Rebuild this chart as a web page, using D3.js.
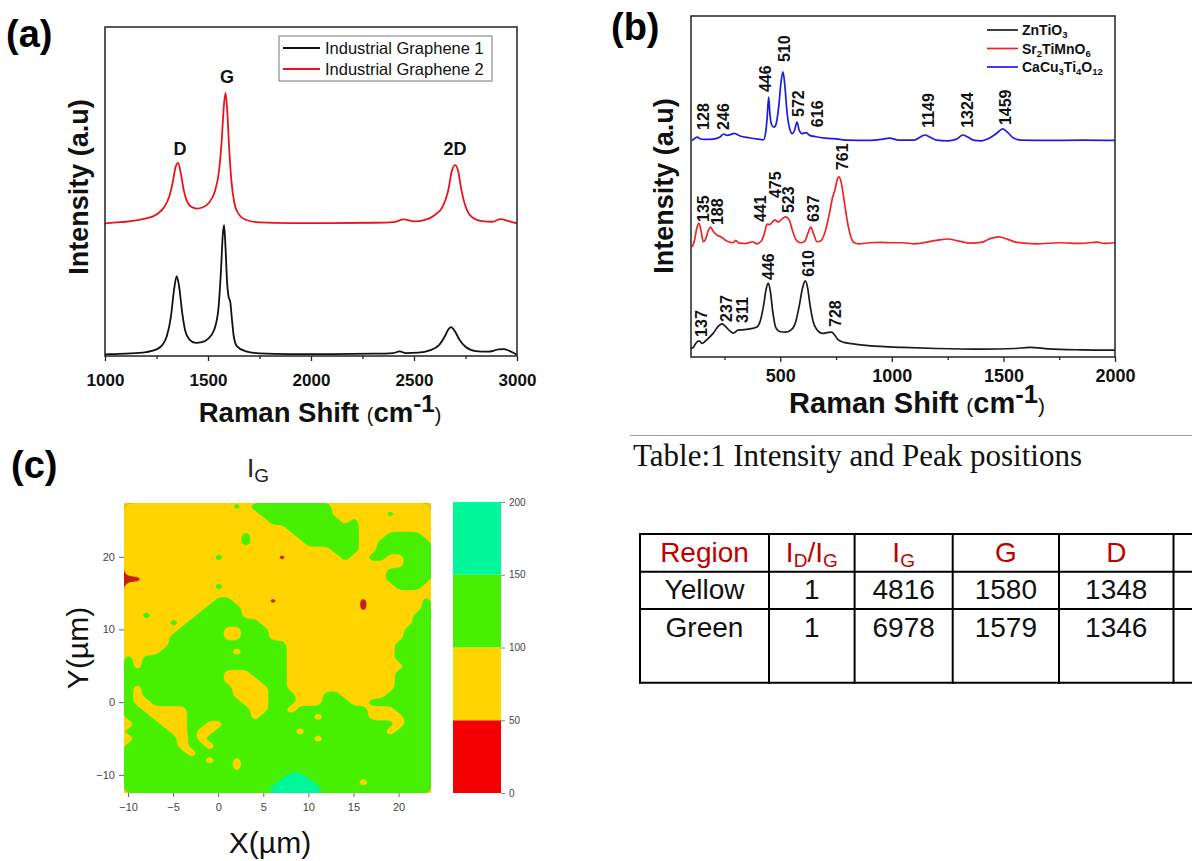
<!DOCTYPE html>
<html>
<head>
<meta charset="utf-8">
<script src="https://cdn.jsdelivr.net/npm/d3@7"></script>
<style>
  html, body { margin: 0; padding: 0; background: #fff; }
  svg { display: block; font-family: "Liberation Sans", Arial, sans-serif; }
</style>
</head>
<body>
<div id="fig"></div>
<script>
// ---------- (a) Raman spectra, two industrial graphene samples ----------
const grapheneNames = ["Industrial Graphene 1", "Industrial Graphene 2"];
const grapheneColors = ["#111111", "#e8141b"];
const graphene1 = [[1000,0.5],[1050,0.6],[1100,0.7],[1150,0.9],[1200,1.2],[1250,2.0],[1280,3.5],[1300,6],[1320,12],[1335,20],[1348,24.3],[1360,21],[1375,13],[1390,7.5],[1410,5],[1440,4],[1470,4.2],[1500,5.2],[1530,8],[1550,14],[1563,26],[1572,37],[1578,39.8],[1585,33],[1593,22],[1600,18],[1608,16.5],[1615,12],[1625,6],[1640,3],[1680,1.5],[1750,0.8],[1900,0.6],[2100,0.6],[2300,0.7],[2400,0.9],[2430,1.4],[2460,0.9],[2520,1.0],[2580,1.8],[2620,3.2],[2650,6],[2668,8.2],[2680,8.8],[2698,7.6],[2720,5],[2750,2.8],[2800,1.5],[2860,1.3],[2910,2.0],[2935,2.1],[2965,1.5],[3000,0.4]];
const graphene2 = [[1000,40.3],[1050,40.6],[1100,40.8],[1150,41.2],[1200,41.8],[1250,43],[1290,45.5],[1312,48.5],[1328,52.5],[1343,57.5],[1355,58.7],[1368,55.5],[1382,50.5],[1396,47.3],[1415,45.5],[1445,44.8],[1475,45.2],[1505,46.6],[1533,50],[1553,56],[1566,65],[1577,76],[1585,80],[1593,75],[1602,64],[1614,53],[1628,46.5],[1648,43.2],[1680,41.5],[1750,40.6],[1900,40.4],[2100,40.4],[2300,40.5],[2400,40.7],[2450,41.5],[2500,40.9],[2550,41.3],[2600,42.8],[2640,45.5],[2665,50],[2685,56.5],[2700,58],[2713,56.5],[2730,50.5],[2750,45.5],[2780,42.3],[2830,41],[2880,40.8],[2920,41.6],[2960,41.0],[3000,40.3]];
const graphenePeaks = [["D",1364,61.1],["G",1592,83],["2D",2699,61.1]];
const grapheneTicks = [1000,1500,2000,2500,3000];
const grapheneMinor = [1250,1750,2250,2750];

// ---------- (b) Raman spectra, three oxides ----------
const oxideNames = [[["ZnTiO",0],["3",1]], [["Sr",0],["2",1],["TiMnO",0],["6",1]], [["CaCu",0],["3",1],["Ti",0],["4",1],["O",0],["12",1]]];
const oxideColors = ["#1a1a1a", "#ee2424", "#1c1ce6"];
const znTiO3 = [[100,2.4],[110,2.8],[125,4.3],[137,4.7],[150,4.0],[170,5.0],[200,7.0],[225,9.2],[239,9.7],[255,8.9],[275,7.6],[290,7.0],[311,7.9],[340,8.0],[370,8.3],[395,8.8],[410,10.5],[425,15],[437,20],[446,21.7],[455,19.5],[467,13],[480,8.6],[500,7.4],[525,7.3],[550,8],[570,10.5],[585,15],[600,20.3],[612,22.3],[622,20.5],[634,15],[647,10.5],[662,8.2],[690,6.9],[715,7.2],[731,7.3],[745,6.3],[760,5],[785,4.3],[820,3.9],[870,3.5],[950,3.1],[1050,2.8],[1200,2.5],[1400,2.3],[1550,2.5],[1620,2.8],[1700,2.4],[1850,2.1],[2000,2.0]];
const sr2TiMnO6 = [[105,32.3],[115,34],[125,37.5],[135,39.3],[145,37],[155,33.8],[165,34.5],[178,37.2],[188,38.1],[200,36.8],[215,35.8],[235,35.2],[260,34.0],[290,33.5],[300,34.2],[315,33.4],[350,33.3],[375,33.8],[395,33.2],[415,34],[430,36.5],[441,39.0],[452,38.8],[465,39.6],[475,40.2],[490,39.6],[505,40.3],[523,41.1],[540,40.2],[555,37],[570,34.5],[590,33.5],[610,34.0],[625,36.5],[637,38.1],[650,36.0],[665,33.8],[680,34.0],[700,36.5],[720,42],[735,47],[745,49],[755,52],[763,52.8],[772,51.5],[786,46],[800,40],[815,35.5],[830,33.6],[850,33.2],[900,33.5],[950,33.6],[1000,33.5],[1050,33.5],[1100,33.2],[1200,34.2],[1250,34.6],[1300,34.0],[1350,33.4],[1400,33.6],[1440,34.7],[1480,35.2],[1520,34.5],[1560,33.6],[1650,33.2],[1750,33.5],[1850,33.3],[1920,33.7],[1950,33.3],[2000,33.5]];
const caCu3Ti4O12 = [[105,63.5],[115,64.0],[128,64.5],[140,64.0],[160,63.8],[200,63.9],[230,64.5],[246,65.4],[262,65.0],[280,65.3],[293,65.6],[320,64.8],[360,64.3],[400,63.9],[425,63.7],[435,66],[441,70],[448,76.2],[454,71],[462,68],[472,67.4],[482,68.5],[494,74],[504,81],[512,83.6],[520,80],[530,72],[542,67],[554,65.5],[564,66.5],[575,68.9],[585,66.5],[598,65.5],[616,65.8],[632,65.0],[660,64.6],[700,64.2],[760,63.9],[800,63.6],[900,63.5],[960,63.9],[990,64.2],[1030,63.6],[1100,63.6],[1130,64.6],[1149,65.1],[1170,64.5],[1200,63.6],[1250,63.4],[1290,63.9],[1318,65.1],[1340,64.5],[1370,63.5],[1400,63.4],[1440,64.3],[1470,65.6],[1497,66.9],[1520,65.8],[1545,64.2],[1580,63.6],[1700,63.5],[1850,63.6],[2000,63.5]];
const oxidePeaks = [
  ["128",154,66.6],["246",243,66.6],["446",431,77.7],["510",516,86.5],["572",579,70.4],["616",664,67.4],["1149",1161,67.2],["1324",1336,67.2],["1459",1506,68.0],
  ["135",154,39.6],["188",216,38.7],["441",409,39.6],["475",476,46.6],["523",534,42.2],["637",646,39.6],["761",776,54.8],
  ["137",145,5.9],["237",257,10.3],["311",328,10.0],["446",445,22.6],["610",624,23.5],["728",745,8.8]
];
const oxideTicks = [500,1000,1500,2000];
const oxideMinor = [250,750,1250,1750];

// ---------- (c) I_G map, one character per 1 um cell, top row first ----------
const mapRows = [
  "YYYYYYYYYYYYgYGGGGGGGGGYYYYYYYYYYY",
  "YYYYYYYYYYYYYYYGGGGGGGGYYYYYYgYYYY",
  "YYYYYYYYYYYYYYYYGGGGGGGGYgYYYYYYYY",
  "YYYYYYYYYYYYYYYYYYGGGGGGGGYYYYYYYY",
  "YYYYYYYYYYYYYGYYYYYGGGGGGGYYYGGGGY",
  "YYYYYYYYYYYYYGYYYYYYGGGGGGYYGGGGGG",
  "YYYYYYYYYYYYYYYYYYYYYYYGGGYYGGGGGG",
  "YYYYYYYYYYGYYYYYYrYYYYYYGYYGGYYGGG",
  "YYYYYYYYYYYYYYYYYYYYYYYYYYYYYYYGGG",
  "YYYYYYYYYYYYYYYYYYYYYYYYYYYYYGGGGG",
  "rrYYYYYYYYYYYYYYYYYYYYYYYYYYYGGGGG",
  "YYYYYYYYYYGYYYYYYYYYYYYYYYYYYYGGGY",
  "YYYYYYYYYYYYYYYYYYYYYYYYYYYYYYYYYY",
  "YYYYYYYYYYGGYYYYrYYYYYYYYYrYYYYYYG",
  "YYYYYYYYYGGGGYYYYYYYYYYYYYrYYYYYYG",
  "YYGYYYYYGGGGGYYYYYYYYYYYYYYYYYYYGG",
  "YYYYYGYGGGGGGGGYYYYYYYYYYYYYYYYYGG",
  "YYYYYYGGGGGYYGGGYYYYYYYYYYYYYYYGGG",
  "YYYYYGGGGGGYYGGGYYYYYYYYYYYYYYYGGG",
  "YYYYYGGGGGGGGGGGGGYYYYYYYYYYYYGGGG",
  "YYYYGGGGGGGGyGGGGGYYYYYYYYYYYYGGGG",
  "GYGGGGGGGGGGGGGGGGYYYYYYYYYYYYGGGG",
  "GYGGGGGGGGGGGGGGGGYYYYYYYYYYYYYGGG",
  "GGGGGGGGGGGYYYGGGGYYYYYYYYYYYYGGGG",
  "GGGGGGGGGGGYYYYGGGYYYYYYYYYYYYGGGG",
  "GYGGGGGGGGGGYYYYGGYYYYYYYYYYYYGGGG",
  "GYGGGGGGGGGGYYYYGGGYYYGGYYYYYGGGGG",
  "GYYGGGGGGGGGGYYYGGGYYYGGGYYGGGGGGG",
  "GGYYYYYGGGGGGGYYGGyGGGGGGGGYYYGGGG",
  "GGGYYYYGGGGGGGYGGGGGGyGGGGGYYYYGGG",
  "yGGGYYYGGYYGGGGGGGGGGGGGGGGGGGyGGG",
  "GGGGGYYGYYGGGGGGGGGyGGGGGGGGGyGGGG",
  "yGGGGGyGYGGGGGGGGGGGGyGGGGGGGGGGGG",
  "GGGGGGyGGyGGGGGGGGGGGGGGGGGGGGGGGG",
  "GGGGGGGyGGGGGGGGGGGGGGGGGGGGGGGGGG",
  "GGGGGGGGGyGGYGGGGGGGGGGGGGGGGGGGGG",
  "GGGGGGGGGGGGYGGGGGGGGGGGGGGGGGGGGG",
  "GGGGGGGGGGGGGGGGGGccGGGGGGGGGGGGGG",
  "GGGGGGGGGGGGGGGGGCCCCGGGGGyGGGGGGG",
  "GGGGGGGGGGGGGGGGCCCCCCGGGGGGGGGGGG"
];
const mapLevels = {R: 25, r: 34, Y: 75, y: 55, g: 117, G: 125, c: 162, C: 175};
const mapThresholds = [0, 50, 100, 150];
const mapColors = ["#f50000", "#ffd400", "#46f000", "#00f79a"];
const mapSpotRed = "#c4200c";
const mapBreaks = [0, 50, 100, 150, 200];
const mapXTicks = [-10, -5, 0, 5, 10, 15, 20];
const mapYTicks = [-10, 0, 10, 20];

// ---------- Table 1 ----------
const tableHead = [[["Region",0]], [["I",0],["D",1],["/I",0],["G",1]], [["I",0],["G",1]], [["G",0]], [["D",0]], [["",0]]];
const tableRows = [["Yellow","1","4816","1580","1348",""], ["Green","1","6978","1579","1346",""]];

const W = 1192, H = 861;
const svg = d3.select("#fig").append("svg").attr("width", W).attr("height", H);
svg.append("rect").attr("width", W).attr("height", H).attr("fill", "#fff");

// text with sub/superscripts: segments [text, 1 = subscript]
function richText(t, segs, size, subSize, shift) {
  let prevSub = 0;
  segs.forEach(([s, sub]) => {
    const ts = t.append("tspan").text(s);
    if (sub) ts.attr("font-size", subSize);
    if (sub !== prevSub) ts.attr("dy", sub ? shift : -shift);
    prevSub = sub;
  });
}

function ramanLabel(g, cx, y, size) {
  const t = g.append("text").attr("x", cx).attr("y", y).attr("text-anchor", "middle")
    .attr("font-weight", "bold").attr("font-size", size).attr("fill", "#111");
  t.append("tspan").text("Raman Shift ");
  t.append("tspan").attr("font-weight", "normal").attr("font-size", size * 0.72).text("(");
  t.append("tspan").text("cm");
  t.append("tspan").attr("font-size", size * 0.88).attr("dy", -size * 0.36).text("-1");
  t.append("tspan").attr("font-weight", "normal").attr("font-size", size * 0.72).attr("dy", size * 0.36).text(")");
}

function intensityLabel(g, x, cy, size) {
  g.append("text").attr("transform", `translate(${x},${cy}) rotate(-90)`)
    .attr("text-anchor", "middle").attr("font-weight", "bold").attr("font-size", size)
    .attr("fill", "#111").text("Intensity (a.u)");
}

function panelLetter(x, y, s) {
  svg.append("text").attr("x", x).attr("y", y).attr("font-weight", "bold")
    .attr("font-size", 38).attr("fill", "#000").text(s);
}

function spectrumAxes(g, x, y, major, minor, fontSize, pad) {
  const [y0] = y.range();
  g.append("g").attr("transform", `translate(0,${y0})`)
    .call(d3.axisBottom(x).tickValues(minor).tickSize(3).tickFormat(""))
    .call(a => a.select(".domain").remove())
    .call(a => a.selectAll("line").attr("stroke", "#222").attr("stroke-width", 1.3));
  g.append("g").attr("transform", `translate(0,${y0})`)
    .call(d3.axisBottom(x).tickValues(major).tickSize(5).tickPadding(pad).tickFormat(d3.format("d")))
    .call(a => a.select(".domain").remove())
    .call(a => a.selectAll("line").attr("stroke", "#222").attr("stroke-width", 1.3))
    .call(a => a.selectAll("text").attr("font-family", "Liberation Sans, Arial, sans-serif")
      .attr("font-weight", "bold").attr("font-size", fontSize).attr("fill", "#111"));
  g.append("rect").attr("x", x.range()[0]).attr("y", y.range()[1])
    .attr("width", x.range()[1] - x.range()[0]).attr("height", y.range()[0] - y.range()[1])
    .attr("fill", "none").attr("stroke", "#222").attr("stroke-width", 1.5);
}

// ================= panel (a) =================
const gA = svg.append("g");
const xA = d3.scaleLinear().domain([1000, 3000]).range([105, 517]);
const yA = d3.scaleLinear().domain([0, 100]).range([356, 27]);
const lineA = d3.line().x(d => xA(d[0])).y(d => yA(d[1])).curve(d3.curveMonotoneX);

[graphene1, graphene2].forEach((s, i) => {
  gA.append("path").datum(s).attr("d", lineA).attr("fill", "none")
    .attr("stroke", grapheneColors[i]).attr("stroke-width", 1.8);
});
spectrumAxes(gA, xA, yA, grapheneTicks, grapheneMinor, 17, 13);

gA.selectAll("text.peak").data(graphenePeaks).join("text").attr("class", "peak")
  .attr("x", d => xA(d[1])).attr("y", d => yA(d[2])).attr("text-anchor", "middle")
  .attr("font-weight", "bold").attr("font-size", 18).attr("fill", "#111").text(d => d[0]);

const legA = gA.append("g");
legA.append("rect").attr("x", 279).attr("y", 36).attr("width", 213).attr("height", 45)
  .attr("fill", "#fff").attr("stroke", "#777").attr("stroke-width", 1);
grapheneNames.forEach((n, i) => {
  const ly = 48 + i * 21;
  legA.append("line").attr("x1", 283).attr("x2", 320).attr("y1", ly).attr("y2", ly)
    .attr("stroke", grapheneColors[i]).attr("stroke-width", 1.8);
  legA.append("text").attr("x", 325).attr("y", ly + 6).attr("font-size", 16.5).attr("fill", "#111").text(n);
});
intensityLabel(gA, 88, 187, 27);
ramanLabel(gA, 320, 422, 27.5);
panelLetter(6, 47, "(a)");

// ================= panel (b) =================
const gB = svg.append("g");
const xB = d3.scaleLinear().domain([100, 2000]).range([691, 1115]);
const yB = d3.scaleLinear().domain([0, 100]).range([357, 16]);
const lineB = d3.line().x(d => xB(d[0])).y(d => yB(d[1])).curve(d3.curveMonotoneX);

[znTiO3, sr2TiMnO6, caCu3Ti4O12].forEach((s, i) => {
  gB.append("path").datum(s).attr("d", lineB).attr("fill", "none")
    .attr("stroke", oxideColors[i]).attr("stroke-width", 1.7);
});
spectrumAxes(gB, xB, yB, oxideTicks, oxideMinor, 18, 7);

gB.selectAll("text.peak").data(oxidePeaks).join("text").attr("class", "peak")
  .attr("transform", d => `translate(${xB(d[1])},${yB(d[2])}) rotate(-90)`)
  .attr("dy", "0.36em").attr("font-weight", "bold").attr("font-size", 16)
  .attr("fill", "#111").text(d => d[0]);

oxideNames.forEach((segs, i) => {
  const ly = 30 + i * 18.5;
  gB.append("line").attr("x1", 987).attr("x2", 1018).attr("y1", ly).attr("y2", ly)
    .attr("stroke", oxideColors[i]).attr("stroke-width", 1.7);
  const t = gB.append("text").attr("x", 1022).attr("y", ly + 5).attr("font-weight", "bold")
    .attr("font-size", 14).attr("fill", "#111");
  richText(t, segs, 14, 9.5, 3);
});
intensityLabel(gB, 673, 186, 27);
ramanLabel(gB, 917, 413, 29);
panelLetter(611, 40, "(b)");

// ================= panel (c) =================
const gC = svg.append("g");
const xC = d3.scaleLinear().domain([-10.45, 23.6]).range([124, 431]);
const yC = d3.scaleLinear().domain([-12.5, 27.4]).range([793, 503]);
const nx = mapRows[0].length, ny = mapRows.length;
const cellW = (xC.domain()[1] - xC.domain()[0]) / nx;
const cellH = (yC.domain()[1] - yC.domain()[0]) / ny;
const values = [];
mapRows.forEach(r => r.split("").forEach(ch => values.push(mapLevels[ch])));

const contours = d3.contours().size([nx, ny]).thresholds(mapThresholds)(values);
// grid coords -> screen, rings drawn as smooth closed curves
const ringLine = d3.line()
  .x(p => xC(xC.domain()[0] + p[0] * cellW))
  .y(p => yC(yC.domain()[1] - p[1] * cellH))
  .curve(d3.curveBasisClosed);
const ringsPath = mp => mp.coordinates.map(poly => poly.map(r => ringLine(r.slice(0, -1))).join("")).join("");

gC.append("clipPath").attr("id", "mapclip").append("rect")
  .attr("x", 124).attr("y", 503).attr("width", 307).attr("height", 290);
const mapG = gC.append("g").attr("clip-path", "url(#mapclip)");
mapG.append("rect").attr("x", 124).attr("y", 503).attr("width", 307).attr("height", 290).attr("fill", mapColors[1]);
mapG.selectAll("path.lvl").data(contours).join("path").attr("class", "lvl")
  .attr("d", ringsPath).attr("fill", (d, i) => i === 0 ? mapSpotRed : mapColors[i]).attr("fill-rule", "evenodd")
  .attr("stroke", (d, i) => i === 0 ? mapSpotRed : mapColors[i]).attr("stroke-width", 0.4);

gC.append("g").attr("transform", "translate(0,793)")
  .call(d3.axisBottom(xC).tickValues(mapXTicks).tickSize(4).tickPadding(6))
  .call(a => a.select(".domain").remove())
  .call(a => a.selectAll("line").attr("stroke", "#666"))
  .call(a => a.selectAll("text").attr("font-family", "Liberation Sans, Arial, sans-serif")
    .attr("font-size", 11).attr("fill", "#444"));
gC.append("g").attr("transform", "translate(124,0)")
  .call(d3.axisLeft(yC).tickValues(mapYTicks).tickSize(5).tickPadding(4))
  .call(a => a.select(".domain").remove())
  .call(a => a.selectAll("line").attr("stroke", "#666"))
  .call(a => a.selectAll("text").attr("font-family", "Liberation Sans, Arial, sans-serif")
    .attr("font-size", 11).attr("fill", "#444"));

// colour key
const yKey = d3.scaleLinear().domain([0, 200]).range([793, 502]);
gC.selectAll("rect.key").data(mapColors).join("rect").attr("class", "key")
  .attr("x", 453).attr("width", 48)
  .attr("y", (d, i) => yKey(mapBreaks[i + 1])).attr("height", (d, i) => yKey(mapBreaks[i]) - yKey(mapBreaks[i + 1]))
  .attr("fill", d => d);
gC.append("g").attr("transform", "translate(501,0)")
  .call(d3.axisRight(yKey).tickValues(mapBreaks).tickSize(4).tickPadding(4))
  .call(a => a.select(".domain").remove())
  .call(a => a.selectAll("line").attr("stroke", "#888"))
  .call(a => a.selectAll("text").attr("font-family", "Liberation Sans, Arial, sans-serif")
    .attr("font-size", 10).attr("fill", "#444"));

const tIG = gC.append("text").attr("x", 247).attr("y", 477).attr("font-size", 26).attr("fill", "#222");
richText(tIG, [["I",0],["G",1]], 26, 19, 5);
gC.append("text").attr("x", 270).attr("y", 853).attr("text-anchor", "middle")
  .attr("font-size", 30).attr("fill", "#111").text("X(\u00b5m)");
gC.append("text").attr("transform", "translate(88,648) rotate(-90)").attr("text-anchor", "middle")
  .attr("font-size", 30).attr("fill", "#111").text("Y(\u00b5m)");
panelLetter(11, 478, "(c)");

// ================= Table 1 =================
const gT = svg.append("g");
gT.append("line").attr("x1", 630).attr("x2", W).attr("y1", 435.5).attr("y2", 435.5)
  .attr("stroke", "#a0a0a0").attr("stroke-width", 1.2);
gT.append("text").attr("x", 633).attr("y", 466).attr("font-family", "Liberation Serif, Times New Roman, serif")
  .attr("font-size", 31).attr("fill", "#111").text("Table:1 Intensity and Peak positions");

const colEdges = [640, 769, 854.6, 952.7, 1059, 1173.5, 1260];
const rowEdges = [534, 571.7, 609, 682.7];
const rowBase = [561.5, 599, 637];
colEdges.forEach(x => gT.append("line").attr("x1", x).attr("x2", x)
  .attr("y1", rowEdges[0] - 1).attr("y2", rowEdges[3] + 1).attr("stroke", "#000").attr("stroke-width", 2));
rowEdges.forEach(y => gT.append("line").attr("x1", 639).attr("x2", W)
  .attr("y1", y).attr("y2", y).attr("stroke", "#000").attr("stroke-width", 2));

tableHead.forEach((segs, c) => {
  const t = gT.append("text").attr("x", (colEdges[c] + colEdges[c + 1]) / 2).attr("y", rowBase[0])
    .attr("text-anchor", "middle").attr("font-size", 28).attr("fill", "#c00000");
  richText(t, segs, 28, 19, 5);
});
tableRows.forEach((row, r) => {
  row.forEach((v, c) => {
    gT.append("text").attr("x", (colEdges[c] + colEdges[c + 1]) / 2).attr("y", rowBase[r + 1])
      .attr("text-anchor", "middle").attr("font-size", 28).attr("fill", "#111").text(v);
  });
});
</script>
</body>
</html>
